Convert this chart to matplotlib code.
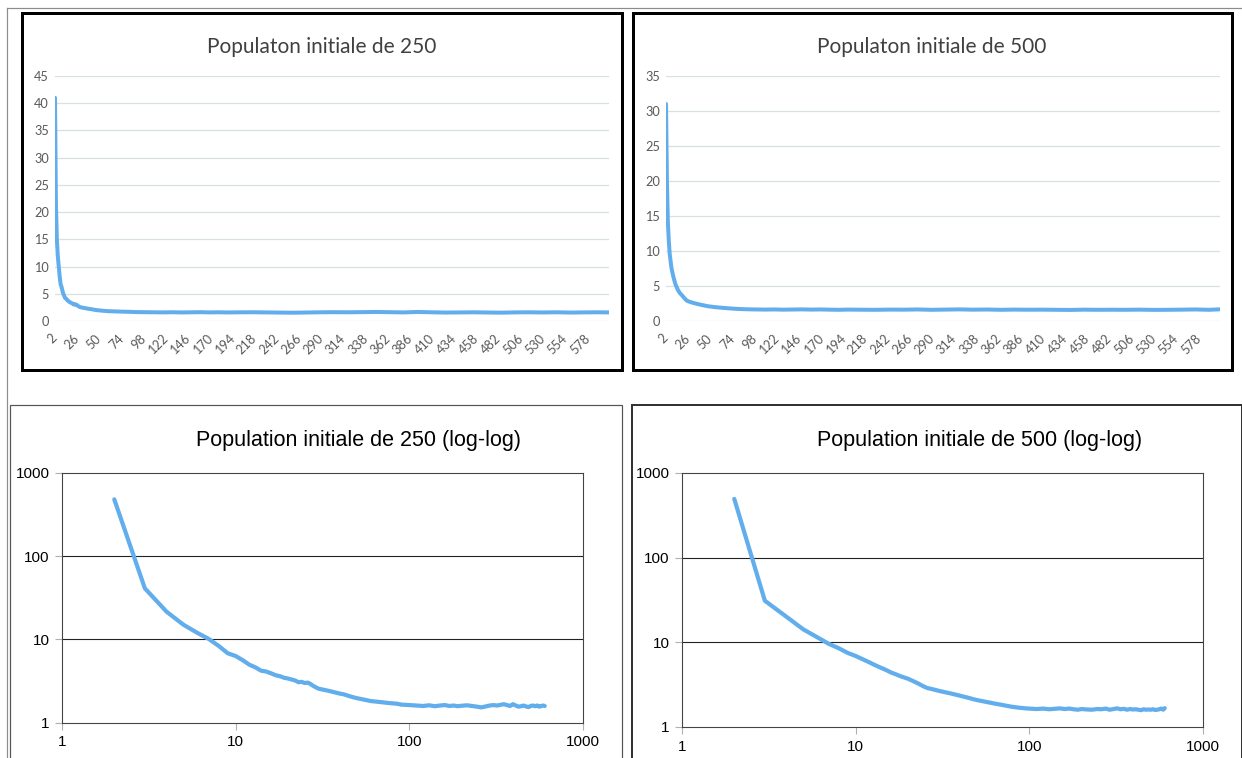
import matplotlib
matplotlib.use('Agg')
import matplotlib.pyplot as plt
from matplotlib.lines import Line2D
from matplotlib.patches import Rectangle
import numpy as np

# ---------------- data ----------------
x_steps = [2, 3, 4, 5, 6, 7, 8, 9, 10, 11, 12, 13, 14, 15, 16, 17, 18, 19, 20,
           22, 23, 24, 25, 26, 27, 28, 30, 32, 35, 38, 40, 42, 45, 48, 50,
           55, 60, 65, 70, 75, 80, 85, 90, 95, 100,
           110, 120, 130, 140, 150, 160, 170, 180, 190, 200,
           215, 230, 245, 260, 275, 290, 305, 320, 335, 350,
           365, 380, 395, 410, 425, 440, 455, 470, 485, 500,
           515, 530, 545, 560, 575, 590, 602]

pop250 = [482, 41, 21.5, 15, 12, 10.1, 8.3, 6.8, 6.3, 5.6,
          4.95, 4.6, 4.2, 4.1, 3.9, 3.7, 3.6, 3.45, 3.38,
          3.2, 3.05, 3.08, 2.98, 3.02, 2.9, 2.75,
          2.55, 2.48, 2.38, 2.28, 2.22, 2.18, 2.08, 2.0, 1.96,
          1.88, 1.81, 1.78, 1.75, 1.72, 1.70, 1.68, 1.64, 1.63, 1.62,
          1.6, 1.58, 1.61, 1.57, 1.6, 1.62, 1.58, 1.6, 1.57, 1.59,
          1.61, 1.58, 1.55, 1.52, 1.56, 1.6, 1.62, 1.6, 1.63, 1.66,
          1.62, 1.58, 1.66, 1.6, 1.55, 1.57, 1.6, 1.56, 1.53, 1.58,
          1.6, 1.57, 1.6, 1.55, 1.58, 1.6, 1.58]

pop500 = [494, 31, 20, 14.2, 11.5, 9.6, 8.5, 7.5, 6.9, 6.3,
          5.8, 5.35, 5.0, 4.7, 4.4, 4.2, 4.0, 3.85, 3.72,
          3.4, 3.25, 3.1, 2.97, 2.88, 2.83, 2.78,
          2.68, 2.6, 2.5, 2.4, 2.34, 2.28, 2.2, 2.12, 2.08,
          2.0, 1.93, 1.87, 1.82, 1.77, 1.73, 1.70, 1.68, 1.66, 1.65,
          1.63, 1.65, 1.62, 1.64, 1.66, 1.63, 1.65, 1.62, 1.6, 1.63,
          1.61, 1.6, 1.63, 1.62, 1.65, 1.6, 1.63, 1.66, 1.62, 1.64,
          1.6, 1.63, 1.61, 1.62, 1.6, 1.58, 1.62, 1.6, 1.61, 1.6,
          1.62, 1.59, 1.6, 1.62, 1.65, 1.6, 1.67]

assert len(x_steps) == len(pop250) == len(pop500)

cat_ticks = list(range(2, 579, 24))          # 2, 26, ..., 578
cat_labels = [str(c) for c in cat_ticks]
lin_titles = ["Populaton initiale de 250", "Populaton initiale de 500"]
log_titles = ["Population initiale de 250 (log-log)", "Population initiale de 500 (log-log)"]
log_ticks = [1, 10, 100, 1000]
log_labels = ["1", "10", "100", "1000"]

# ---------------- styling ----------------
W, H = 1242, 758
DPI = 100
PT = 72.0 / DPI          # points per pixel
BLUE = '#62AEEC'
TOPFONT = 'Lato'
BOTFONT = 'Liberation Sans'

fig = plt.figure(figsize=(W / DPI, H / DPI), dpi=DPI)
fig.patch.set_facecolor('white')


def rect(x0, y0, x1, y1):
    return [x0 / W, 1 - y1 / H, (x1 - x0) / W, (y1 - y0) / H]


def frame(x0, y0, x1, y1, lw, color):
    fig.add_artist(Rectangle((x0 / W, 1 - y1 / H), (x1 - x0) / W, (y1 - y0) / H,
                             transform=fig.transFigure, fill=False,
                             lw=lw * PT, ec=color, zorder=5))


def fline(xs, ys, lw, color):
    fig.add_artist(Line2D([x / W for x in xs], [1 - y / H for y in ys],
                          transform=fig.transFigure, lw=lw * PT, color=color))


# page border
fline([7, 7], [8, H], 1.2, '#8C8C8C')
fline([7, W], [8, 8], 1.2, '#8C8C8C')

# frames
frame(22, 13, 622, 370, 3, '#000000')
frame(633, 13, 1232, 370, 3, '#000000')
frame(10, 405, 622, H + 5, 1.2, '#555555')
frame(631.5, 405, 1241.5, H + 5, 2, '#333333')


def top_chart(px, values, ymax, title, tcx):
    ax = fig.add_axes(rect(*px))
    cats = np.array(x_steps[1:]) - 1
    ax.plot(cats, values[1:], color=BLUE, lw=4.0 * PT,
            solid_joinstyle='round', solid_capstyle='round', zorder=3)
    ax.set_xlim(2, 601)
    ax.set_ylim(0, ymax)
    ax.set_yticks(list(range(0, ymax + 1, 5)))
    ax.set_yticklabels([str(v) for v in range(0, ymax + 1, 5)])
    ax.grid(axis='y', color='#D9E0E0', lw=1.3 * PT)
    ax.set_axisbelow(True)
    for s in ax.spines.values():
        s.set_visible(False)
    ax.set_xticks(cat_ticks)
    ax.set_xticklabels(cat_labels, rotation=45, ha='right', va='center',
                       rotation_mode='anchor')
    ax.tick_params(axis='y', length=0, pad=6 * PT * 1.0, labelsize=9.2,
                   labelcolor='#595959')
    ax.tick_params(axis='x', length=0, pad=11, labelsize=9.2,
                   labelcolor='#595959')
    for lab in ax.get_xticklabels() + ax.get_yticklabels():
        lab.set_fontfamily(TOPFONT)
    ax.patch.set_alpha(0)
    fig.text(tcx / W, 1 - 53 / H, title, ha='center', va='baseline',
             fontsize=15, family=TOPFONT, color='#404040')
    return ax


def bottom_chart(px, values, title, tcx):
    ax = fig.add_axes(rect(*px))
    ax.plot(x_steps, values, color=BLUE, lw=4.2 * PT,
            solid_joinstyle='round', solid_capstyle='round', zorder=3)
    ax.set_xscale('log')
    ax.set_yscale('log')
    ax.set_xlim(1, 1000)
    ax.set_ylim(1, 1000)
    ax.set_xticks(log_ticks)
    ax.set_xticklabels(log_labels)
    ax.set_yticks(log_ticks)
    ax.set_yticklabels(log_labels)
    ax.minorticks_off()
    for v in [10, 100]:
        ax.axhline(v, color='#222222', lw=1.1 * PT, zorder=2)
    for s in ax.spines.values():
        s.set_color('#444444')
        s.set_linewidth(1.1 * PT)
    ax.tick_params(axis='both', length=7 * PT, width=1.1 * PT, color='#B0B0B0',
                   labelsize=11, labelcolor='#000000', pad=4)
    for lab in ax.get_xticklabels() + ax.get_yticklabels():
        lab.set_fontfamily(BOTFONT)
    fig.text(tcx / W, 1 - 446 / H, title, ha='center', va='baseline',
             fontsize=15.5, family=BOTFONT, color='#000000')
    return ax


top_chart((55, 76, 609, 321), pop250, 45, lin_titles[0], 322)
top_chart((666, 76, 1220, 321), pop500, 35, lin_titles[1], 932)
bottom_chart((62, 473, 583, 722.5), pop250, log_titles[0], 358)
bottom_chart((682, 473, 1203, 727), pop500, log_titles[1], 980)

fig.savefig('out.png', dpi=DPI)
